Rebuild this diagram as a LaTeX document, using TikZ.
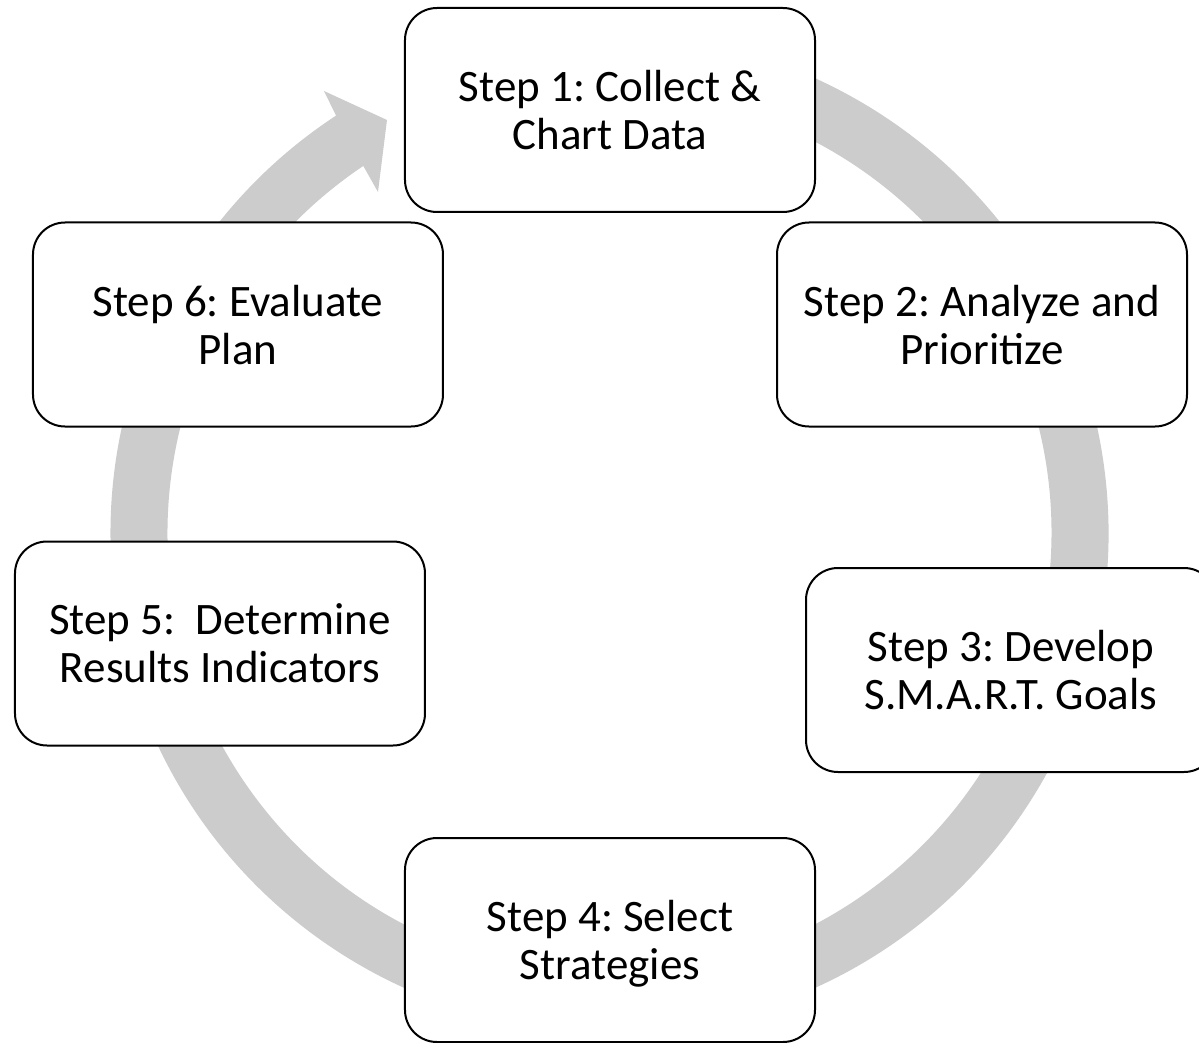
\documentclass[tikz,border=0pt]{standalone}
\usepackage{fontspec}
\setmainfont{Carlito}
\definecolor{ringgray}{HTML}{CCCCCC}
\frenchspacing
\begin{document}
\begin{tikzpicture}[x=1pt,y=1pt,
  stepbox/.style={draw=black, line width=2pt, fill=white, rectangle,
    rounded corners=32pt, minimum width=410pt, minimum height=204pt,
    align=center, inner sep=0pt, text depth=0pt, font=\fontsize{45}{48}\selectfont}]
\useasboundingbox (-609.5,-509) rectangle (589.5,533);
\fill[white] (-609.5,-509) rectangle (589.5,533);
% circular arrow
\fill[ringgray] (100:499) arc[start angle=100, end angle=-236.77, radius=499]
  -- (-285.5,442) -- (-222.5,413) -- (-231.5,341)
  -- (-236.15:442) arc[start angle=-236.15, end angle=100, radius=442] -- cycle;
\begin{scope}
\clip (-609.5,-509) rectangle (589.5,533);
\node[stepbox] (s1) at (0.5,423) {Step 1: Collect \&\\Chart Data};
\node[stepbox] (s2) at (372.5,208.5) {Step 2: Analyze and\\Prioritize};
\node[stepbox] (s3) at (401.5,-137) {Step 3: Develop\\S.M.A.R.T. Goals};
\node[stepbox] (s4) at (0.5,-407) {Step 4: Select\\Strategies};
\node[stepbox] (s5) at (-389.5,-110.5) {Step 5:\ \ Determine\\Results Indicators};
\node[stepbox] (s6) at (-371.5,208.5) {Step 6: Evaluate\\Plan};
\end{scope}
\end{tikzpicture}
\end{document}
